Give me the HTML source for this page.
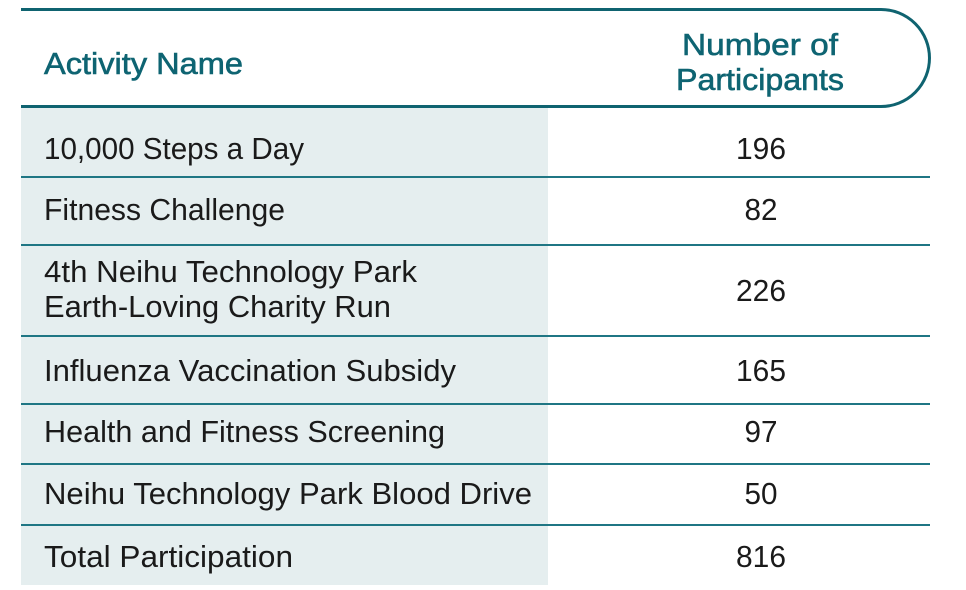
<!DOCTYPE html>
<html><head><meta charset="utf-8"><style>
html,body{margin:0;padding:0;background:#fff;width:966px;height:590px;overflow:hidden}
svg{display:block}
text{font-family:"Liberation Sans",sans-serif;font-size:31px;fill:#1a1a1a}
.h{fill:#0e6472;font-size:31px;stroke:#0e6472;stroke-width:0.6}
</style></head><body>
<svg width="966" height="590" viewBox="0 0 966 590">
<rect x="21" y="108" width="527" height="477" fill="#e5eeef"/>
<path d="M21,9.5 H881 A48.5,48.5 0 0 1 881,106.5 H21" fill="none" stroke="#0f6370" stroke-width="3"/>
<g stroke="#1f7684" stroke-width="2">
<line x1="21" y1="177" x2="930" y2="177"/>
<line x1="21" y1="245" x2="930" y2="245"/>
<line x1="21" y1="336" x2="930" y2="336"/>
<line x1="21" y1="404" x2="930" y2="404"/>
<line x1="21" y1="464" x2="930" y2="464"/>
<line x1="21" y1="525" x2="930" y2="525"/>
</g>
<text class="h" x="44" y="74" textLength="199" lengthAdjust="spacingAndGlyphs">Activity Name</text>
<text class="h" x="760" y="55" text-anchor="middle" textLength="156" lengthAdjust="spacingAndGlyphs">Number of</text>
<text class="h" x="760" y="90" text-anchor="middle" textLength="168" lengthAdjust="spacingAndGlyphs">Participants</text>
<text x="44" y="159" textLength="260" lengthAdjust="spacingAndGlyphs">10,000 Steps a Day</text>
<text x="44" y="220" textLength="241" lengthAdjust="spacingAndGlyphs">Fitness Challenge</text>
<text x="44" y="282" textLength="373" lengthAdjust="spacingAndGlyphs">4th Neihu Technology Park</text>
<text x="44" y="317" textLength="347" lengthAdjust="spacingAndGlyphs">Earth-Loving Charity Run</text>
<text x="44" y="381" textLength="412" lengthAdjust="spacingAndGlyphs">Influenza Vaccination Subsidy</text>
<text x="44" y="442" textLength="401" lengthAdjust="spacingAndGlyphs">Health and Fitness Screening</text>
<text x="44" y="504" textLength="488" lengthAdjust="spacingAndGlyphs">Neihu Technology Park Blood Drive</text>
<text x="44" y="567" textLength="249" lengthAdjust="spacingAndGlyphs">Total Participation</text>
<g text-anchor="middle">
<text x="761" y="159" textLength="50" lengthAdjust="spacingAndGlyphs">196</text>
<text x="761" y="220" textLength="33" lengthAdjust="spacingAndGlyphs">82</text>
<text x="761" y="301" textLength="50" lengthAdjust="spacingAndGlyphs">226</text>
<text x="761" y="381" textLength="50" lengthAdjust="spacingAndGlyphs">165</text>
<text x="761" y="442" textLength="33" lengthAdjust="spacingAndGlyphs">97</text>
<text x="761" y="504" textLength="33" lengthAdjust="spacingAndGlyphs">50</text>
<text x="761" y="567" textLength="50" lengthAdjust="spacingAndGlyphs">816</text>
</g>
</svg>
</body></html>
